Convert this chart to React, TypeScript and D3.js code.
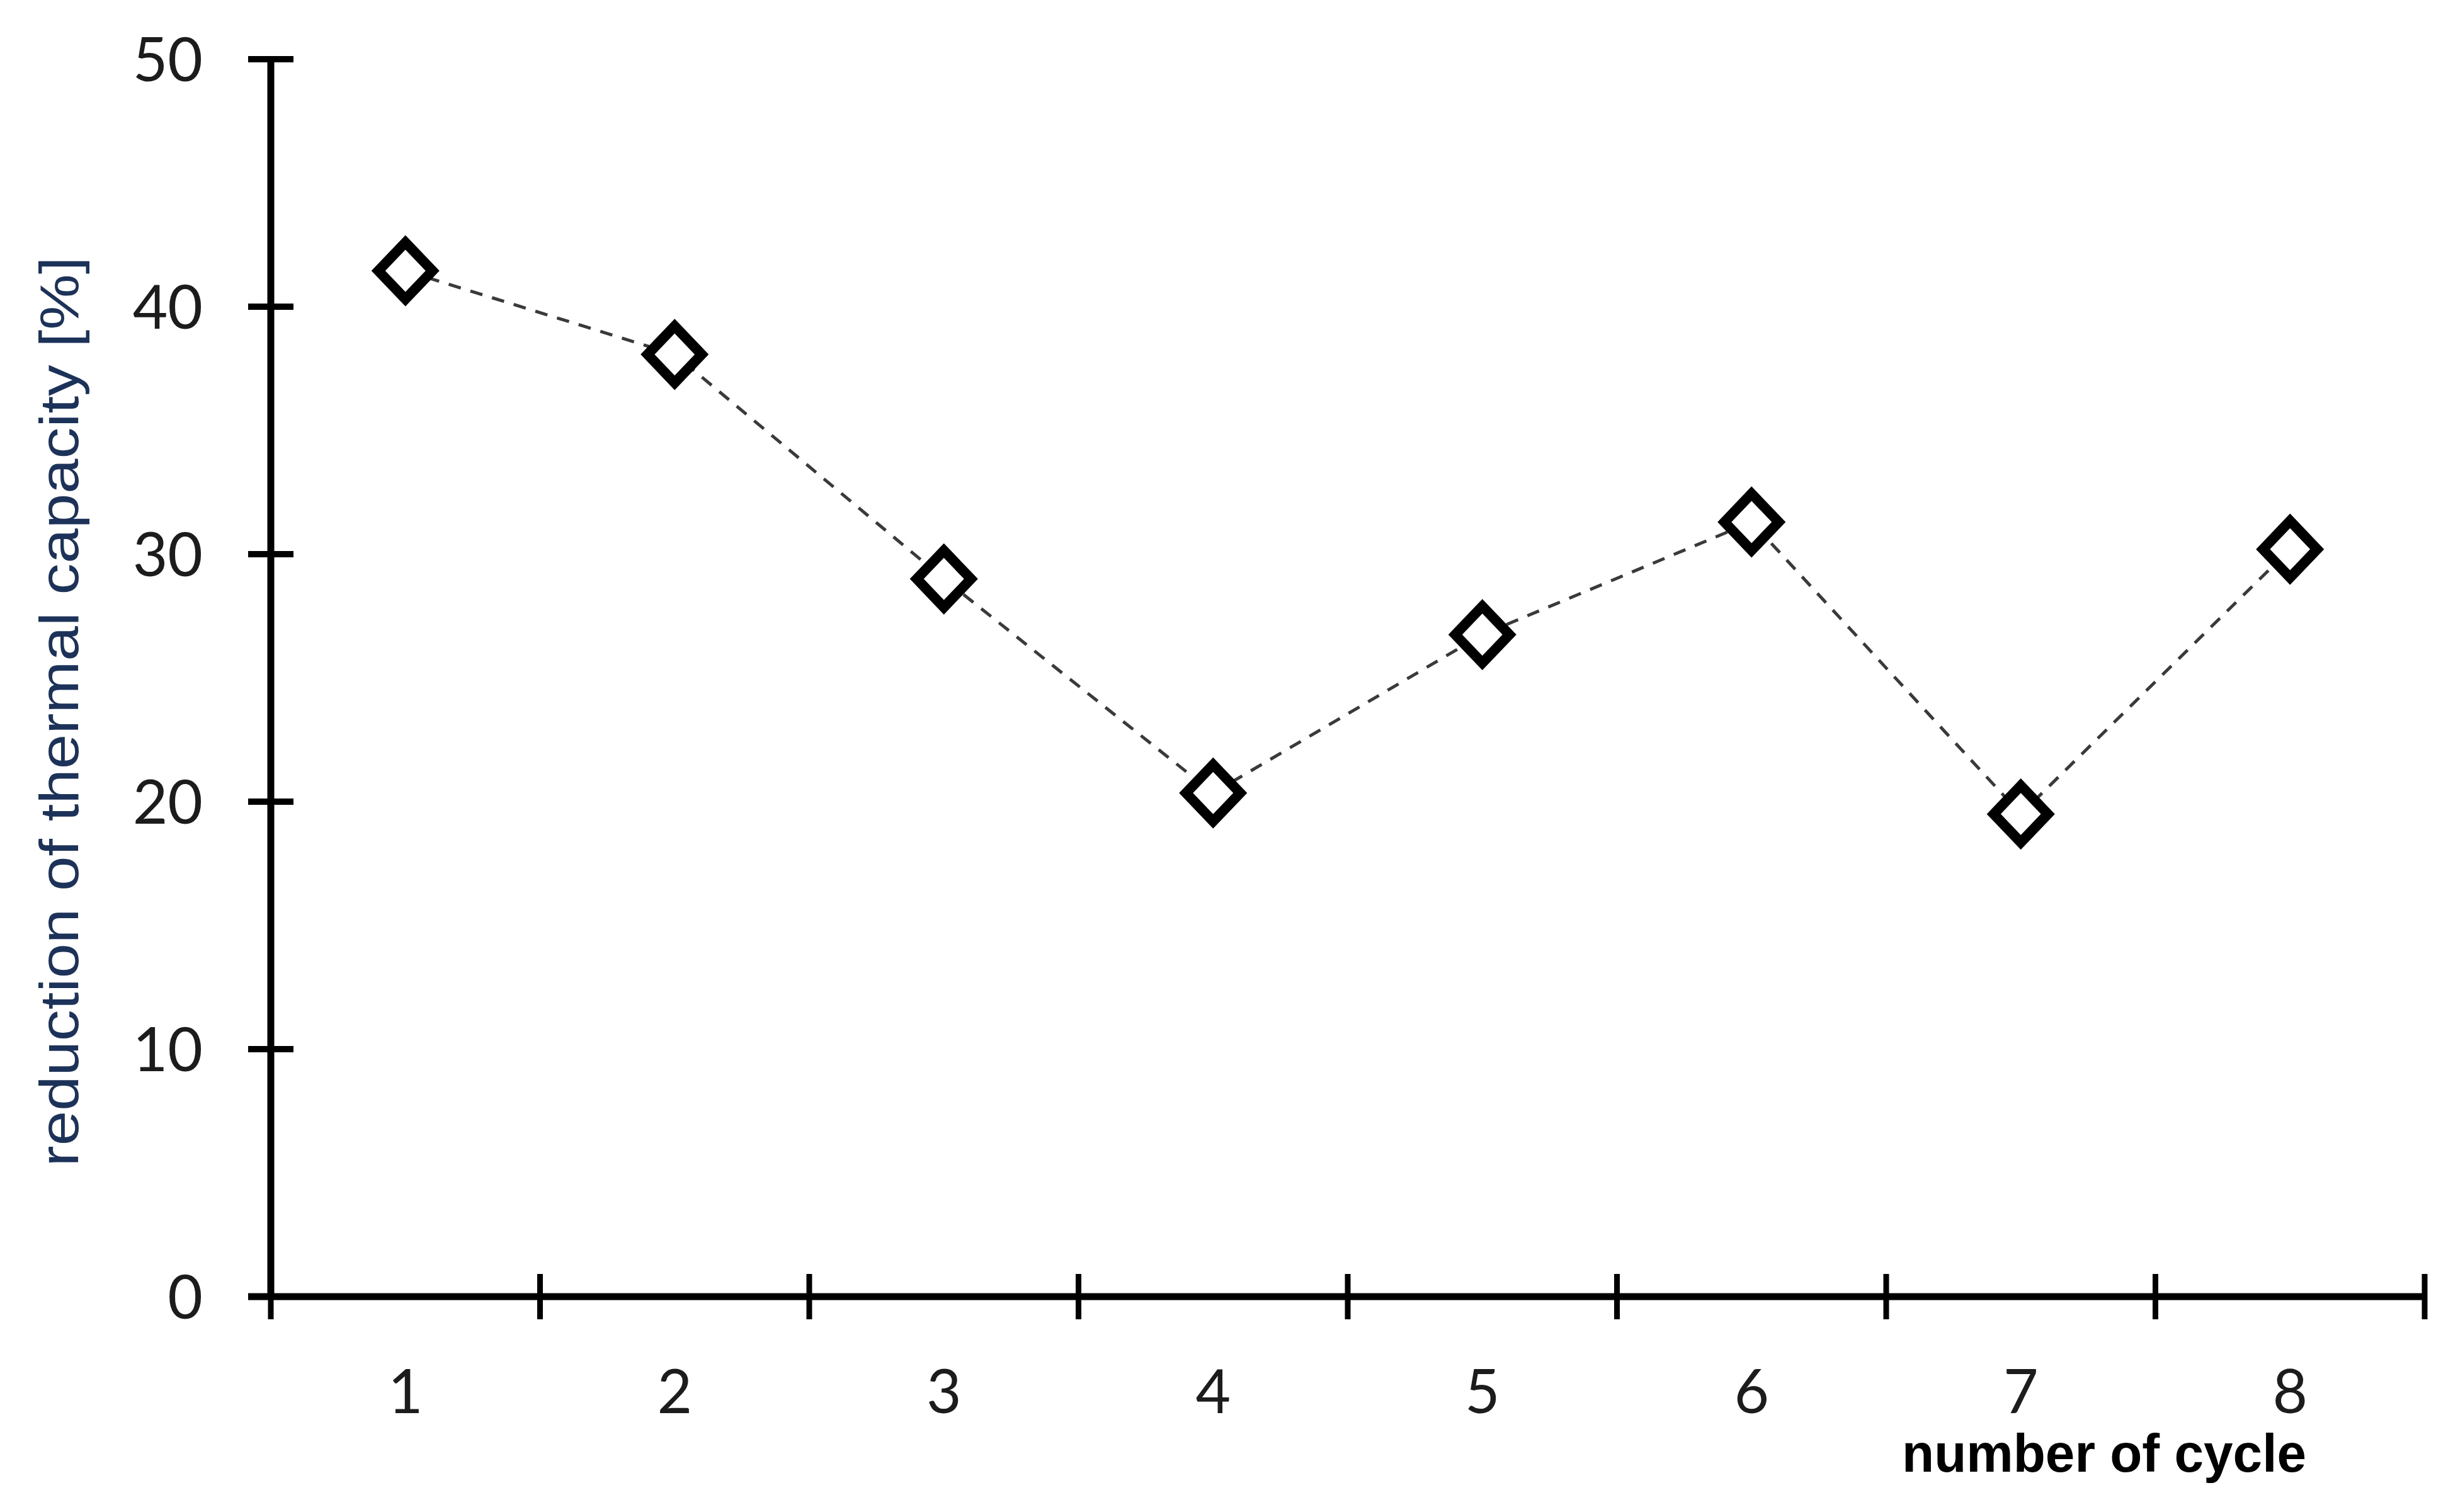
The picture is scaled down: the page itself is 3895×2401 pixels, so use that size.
import React from "react";
import * as d3 from "d3";

// data
const cycles = [1, 2, 3, 4, 5, 6, 7, 8];
const reduction = [41.45, 38.07, 29.0, 20.35, 26.75, 31.3, 19.5, 30.2];
const yTicks = [0, 10, 20, 30, 40, 50];

const width = 3895;
const height = 2401;
const margin = { top: 94, right: 45, bottom: 342, left: 430 };

const App = () => {
  // x scale: one band per cycle, ticks on band edges
  const xScale = d3
    .scaleBand<number>()
    .domain(cycles)
    .range([margin.left, width - margin.right])
    .padding(0);

  const yScale = d3
    .scaleLinear()
    .domain([0, 50])
    .range([height - margin.bottom, margin.top]);

  const bw = xScale.bandwidth();
  const cx = (c: number) => (xScale(c) as number) + bw / 2;

  const points = cycles.map((c, i) => ({ c, v: reduction[i] }));

  const line = d3
    .line<{ c: number; v: number }>()
    .x((d) => cx(d.c))
    .y((d) => yScale(d.v));

  // tick positions on the x axis: left edge of every band plus the end
  const xEdges = cycles.map((c) => xScale(c) as number).concat([width - margin.right]);

  const y0 = yScale(0);
  const xAxisLeft = margin.left;

  // diamond marker outline
  const dw = 43;
  const dh = 45;
  const diamond = `M0,${-dh}L${dw},0L0,${dh}L${-dw},0Z`;

  const tickFont = "Lato, 'Open Sans', sans-serif";

  return (
    <div style={{ position: "absolute", left: 0, top: 0 }}>
      <svg width={width} height={height} viewBox={`0 0 ${width} ${height}`}>
        <rect width={width} height={height} fill="#ffffff" />

        {/* y axis */}
        <line
          x1={xAxisLeft}
          x2={xAxisLeft}
          y1={yScale(50)}
          y2={y0}
          stroke="#000"
          strokeWidth={11}
        />
        {yTicks.map((t) => (
          <g key={t}>
            <line
              x1={xAxisLeft - 36}
              x2={xAxisLeft + 36}
              y1={yScale(t)}
              y2={yScale(t)}
              stroke="#000"
              strokeWidth={10}
            />
            <text
              x={xAxisLeft - 108}
              y={yScale(t)}
              dy="0.36em"
              textAnchor="end"
              fontFamily={tickFont}
              fontSize={96}
              fill="#1c1c1c"
            >
              {t}
            </text>
          </g>
        ))}

        {/* x axis */}
        <line
          x1={xAxisLeft - 36}
          x2={width - margin.right}
          y1={y0}
          y2={y0}
          stroke="#000"
          strokeWidth={11}
        />
        {xEdges.map((x, i) => (
          <line
            key={i}
            x1={x}
            x2={x}
            y1={y0 - 36}
            y2={y0 + 36}
            stroke="#000"
            strokeWidth={9}
          />
        ))}
        {cycles.map((c) => (
          <text
            key={c}
            x={cx(c)}
            y={2244}
            textAnchor="middle"
            fontFamily={tickFont}
            fontSize={96}
            fill="#1c1c1c"
          >
            {c}
          </text>
        ))}

        {/* axis titles */}
        <text
          transform={`translate(124, 1130) rotate(-90)`}
          textAnchor="middle"
          fontFamily="'Liberation Sans', Arial, sans-serif"
          fontSize={88}
          fill="#1c3259"
          textLength={1445}
          lengthAdjust="spacingAndGlyphs"
        >
          reduction of thermal capacity [%]
        </text>
        <text
          x={3341}
          y={2337}
          textAnchor="middle"
          fontFamily="'Liberation Sans', Arial, sans-serif"
          fontWeight="bold"
          fontSize={86}
          fill="#000"
          textLength={642}
          lengthAdjust="spacingAndGlyphs"
        >
          number of cycle
        </text>

        {/* dashed connecting line */}
        <path
          d={line(points) as string}
          fill="none"
          stroke="#3a3a3a"
          strokeWidth={5}
          strokeDasharray="20 16"
        />

        {/* diamond markers */}
        {points.map((d) => (
          <path
            key={d.c}
            d={diamond}
            transform={`translate(${cx(d.c)}, ${yScale(d.v)})`}
            fill="#fff"
            stroke="#000"
            strokeWidth={16}
            strokeLinejoin="miter"
          />
        ))}
      </svg>
    </div>
  );
};

export default App;
